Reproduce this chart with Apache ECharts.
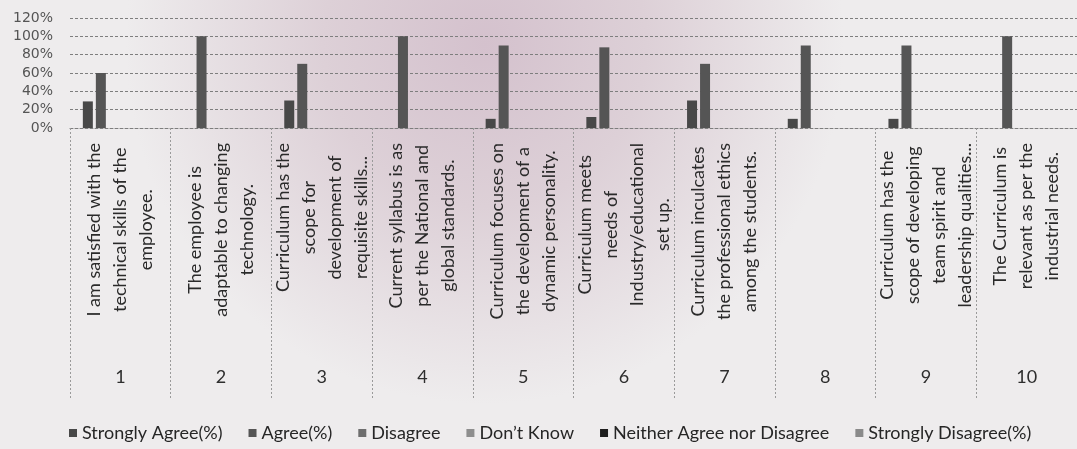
<!DOCTYPE html>
<html>
<head>
<meta charset="utf-8">
<script src="https://cdn.jsdelivr.net/npm/echarts@6/dist/echarts.min.js"></script>
<style>html,body{margin:0;padding:0;background:#f0eeee;}#c{width:1077px;height:449px;}</style>
</head>
<body>
<div id="c"></div>
<script>
var categories = [
  "I am satisfied with the\ntechnical skills of the\nemployee.",
  "The employee is\nadaptable to changing\ntechnology.",
  "Curriculum has the\nscope for\ndevelopment of\nrequisite skills...",
  "Current syllabus is as\nper the National and\nglobal standards.",
  "Curriculum focuses on\nthe development of a\ndynamic personality.",
  "Curriculum meets\nneeds of\nIndustry/educational\nset up.",
  "Curriculum inculcates\nthe professional ethics\namong the students.",
  "",
  "Curriculum has the\nscope of developing\nteam spirit and\nleadership qualities...",
  "The Curriculum is\nrelevant as per the\nindustrial needs."
];
var numbers = ["1","2","3","4","5","6","7","8","9","10"];
var yTicks = [0, 20, 40, 60, 80, 100, 120];
var seriesNames = ["Strongly Agree(%)", "Agree(%)", "Disagree", "Don\u2019t Know", "Neither Agree nor Disagree", "Strongly Disagree(%)"];
var stronglyAgree = [29, 0, 30, 0, 10, 12, 30, 10, 10, 0];
var agree = [60, 100, 70, 100, 90, 88, 70, 90, 90, 100];
var disagree = [0, 0, 0, 0, 0, 0, 0, 0, 0, 0];
var dontKnow = [0, 0, 0, 0, 0, 0, 0, 0, 0, 0];
var neither = [0, 0, 0, 0, 0, 0, 0, 0, 0, 0];
var stronglyDisagree = [0, 0, 0, 0, 0, 0, 0, 0, 0, 0];

var colors = ['#484848', '#555555', '#6e6e6e', '#8e8e8e', '#1e1e1e', '#8a8a8a'];
var values = [stronglyAgree, agree, disagree, dontKnow, neither, stronglyDisagree];

var chart = echarts.init(document.getElementById('c'), null, {renderer: 'canvas'});
var option = {
  backgroundColor: {
    type: 'radial', x: 0.45, y: 0.1, r: 0.8,
    colorStops: [
      {offset: 0, color: '#d4c1cd'},
      {offset: 0.45, color: '#ddd0d7'},
      {offset: 1, color: '#eeeced'}
    ]
  },
  animation: false,
  color: colors,
  grid: {left: 70, right: 0, top: 18, bottom: 321, containLabel: false},
  legend: {
    left: 64, top: 419,
    itemWidth: 8, itemHeight: 8, itemGap: 26,
    icon: 'rect',
    textStyle: {fontFamily: 'Lato', fontSize: 18, color: '#262626'},
    data: seriesNames
  },
  xAxis: [{
    type: 'category',
    data: categories,
    position: 'bottom',
    axisLine: {show: true, lineStyle: {color: '#7e7e7e', type: [3, 2]}},
    axisTick: {show: true, length: 272, lineStyle: {color: '#9a9a9a', type: [2, 2]}},
    axisLabel: {
      interval: 0, rotate: 90, margin: 15,
      fontFamily: 'Lato', fontSize: 18, color: '#2a2a2a',
      formatter: function (v) { return v.split('\n').map(function (l) { return '{t|' + l + '}'; }).join('\n'); },
      rich: {t: {align: 'center', fontFamily: 'Lato', fontSize: 18, lineHeight: 26, color: '#2a2a2a'}}
    }
  }, {
    type: 'category',
    data: numbers,
    position: 'bottom',
    offset: 232,
    axisLine: {show: false},
    axisTick: {show: false},
    axisLabel: {interval: 0, fontFamily: 'Lato', fontSize: 18, color: '#2e2e2e', margin: 8}
  }],
  yAxis: {
    type: 'value', min: 0, max: 120, interval: 20,
    axisLine: {show: false}, axisTick: {show: false},
    axisLabel: {margin: 17, fontFamily: 'DejaVu Sans', fontSize: 14, color: '#555',
      formatter: function (v) { return yTicks.indexOf(v) >= 0 ? v + '%' : ''; }},
    splitLine: {lineStyle: {color: '#7e7e7e', type: [3, 2]}}
  },
  series: seriesNames.map(function (n, i) {
    return {name: n, type: 'bar', xAxisIndex: 0, data: values[i], barWidth: 10, barGap: '30%'};
  })
};
chart.setOption(option);
</script>
</body>
</html>
